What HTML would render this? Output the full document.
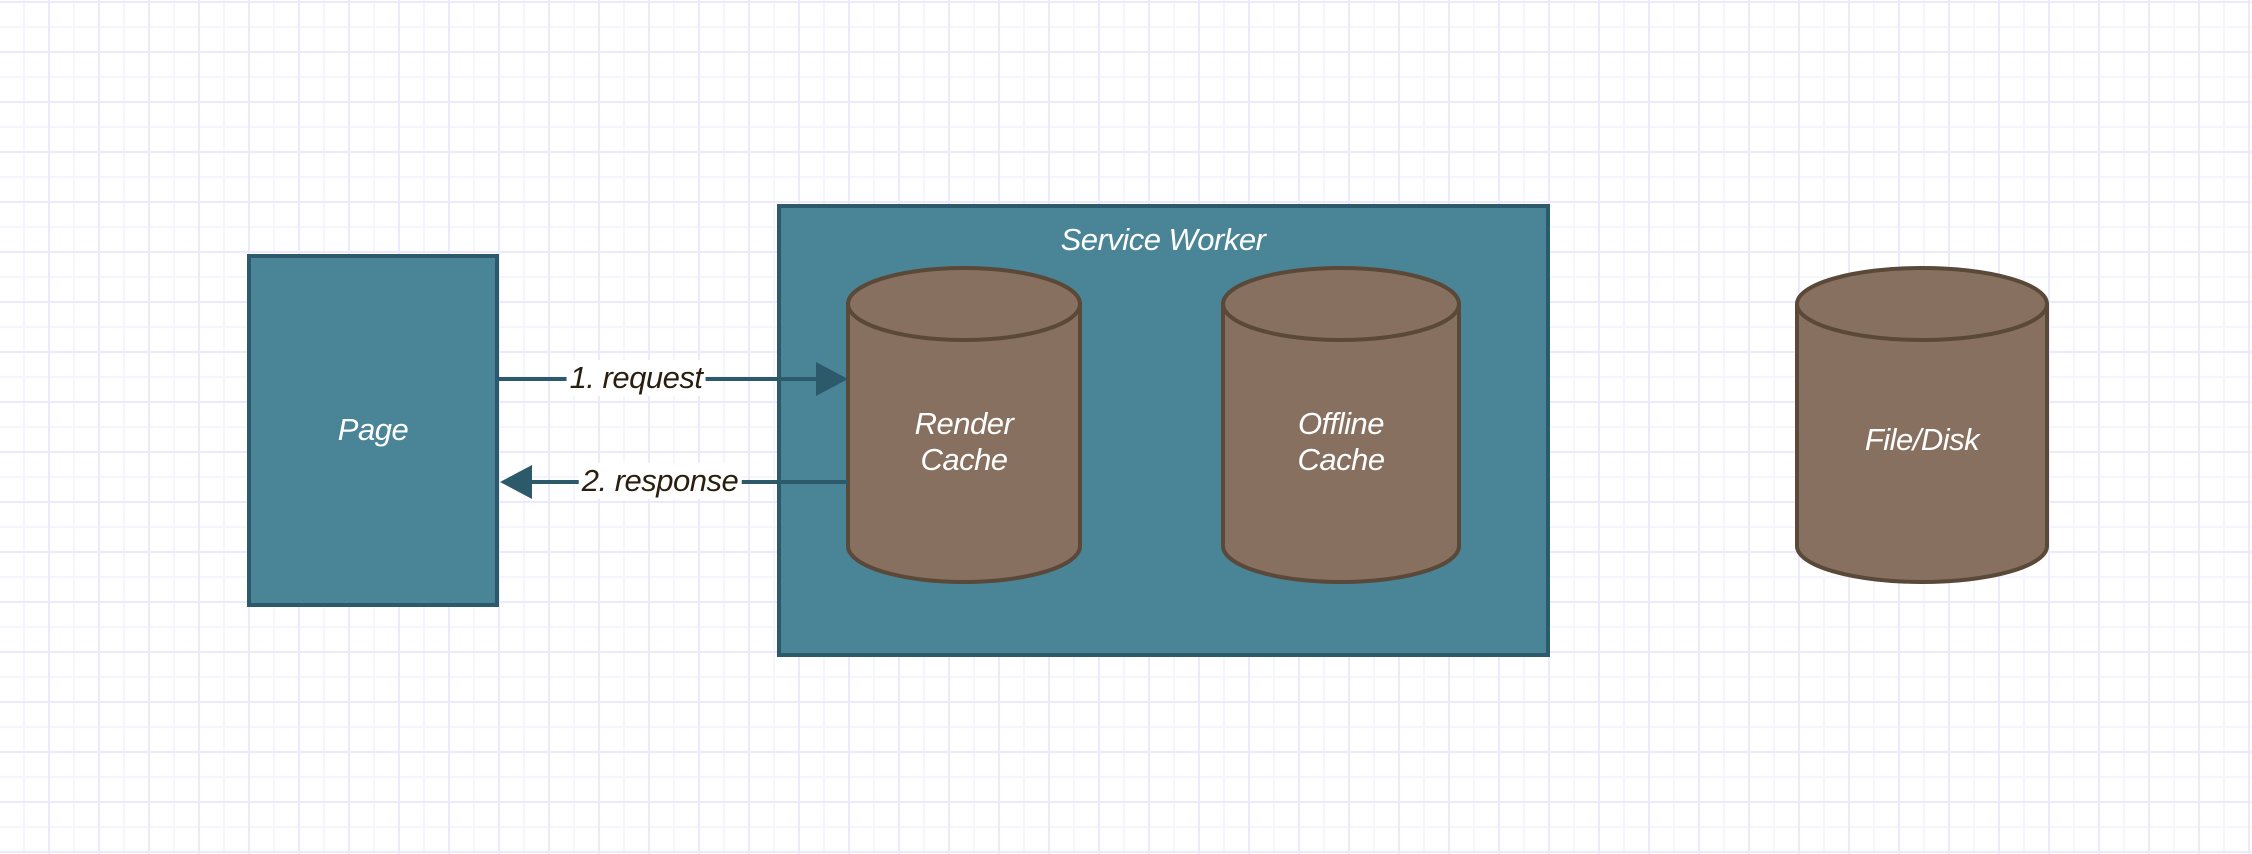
<!DOCTYPE html>
<html><head><meta charset="utf-8"><style>
html,body{margin:0;padding:0}
body{width:2252px;height:854px;overflow:hidden;background:#fff;position:relative;font-family:"Liberation Sans",sans-serif}
.grid{position:absolute;inset:0;
background-image:
linear-gradient(to right,#ebe9fb 2px,transparent 2px),
linear-gradient(to bottom,#ebe9fb 2px,transparent 2px),
linear-gradient(to right,#f5f5fd 2px,transparent 2px),
linear-gradient(to bottom,#f5f5fd 2px,transparent 2px);
background-size:50px 50px,50px 50px,50px 50px,50px 50px;
background-position:48px 0,0 1px,23px 0,0 26px;}
.box{position:absolute;background:#4a8597;border:4px solid #2d5a6b;box-sizing:border-box}
.t{position:absolute;color:#fff;font-style:italic;font-size:31px;text-align:center;line-height:36px;transform:translate(-50%,-50%);white-space:nowrap;letter-spacing:-0.5px}
.lbl{position:absolute;color:#2a1e10;font-style:italic;font-size:31px;background:#fff;padding:0 3px;transform:translate(-50%,-50%);white-space:nowrap;line-height:36px;letter-spacing:-0.5px}
</style></head><body>
<div class="grid"></div>
<div class="box" style="left:247px;top:254px;width:252px;height:353px"></div>
<div class="box" style="left:777px;top:204px;width:773px;height:453px"></div>
<svg width="2252" height="854" style="position:absolute;left:0;top:0">
<g fill="#87705f" stroke="#5a4838" stroke-width="4">
<path d="M848,304 A116,36 0 0 1 1080,304 L1080,546 A116,36 0 0 1 848,546 Z"/>
<path d="M848,304 A116,36 0 0 0 1080,304"/>
<path d="M1223,304 A118,36 0 0 1 1459,304 L1459,546 A118,36 0 0 1 1223,546 Z"/>
<path d="M1223,304 A118,36 0 0 0 1459,304"/>
<path d="M1797,304 A125,36 0 0 1 2047,304 L2047,546 A125,36 0 0 1 1797,546 Z"/>
<path d="M1797,304 A125,36 0 0 0 2047,304"/>
</g>
<g stroke="#2d5a6b" stroke-width="4" fill="#2d5a6b">
<line x1="499" y1="379" x2="818" y2="379"/>
<path d="M816,362 L848,379 L816,396 Z" stroke="none"/>
<line x1="530" y1="482" x2="848" y2="482"/>
<path d="M532,465 L500,482 L532,499 Z" stroke="none"/>
</g>
</svg>
<div class="t" style="left:373px;top:430px">Page</div>
<div class="t" style="left:1163px;top:240px">Service Worker</div>
<div class="t" style="left:964px;top:442px">Render<br>Cache</div>
<div class="t" style="left:1341px;top:442px">Offline<br>Cache</div>
<div class="t" style="left:1922px;top:440px">File/Disk</div>
<div class="lbl" style="left:636px;top:378px">1. request</div>
<div class="lbl" style="left:660px;top:481px">2. response</div>
</body></html>
